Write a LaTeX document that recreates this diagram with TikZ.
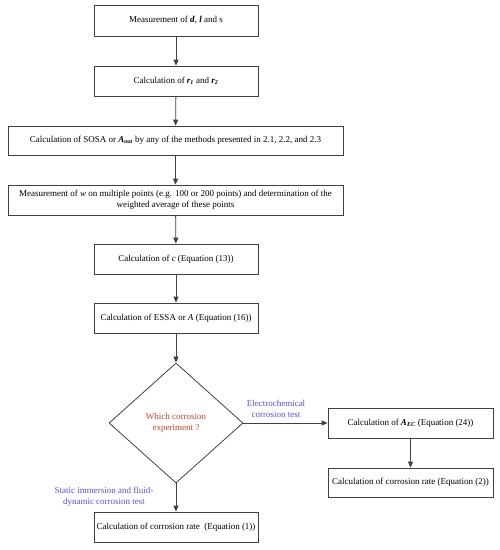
\documentclass[tikz,border=0pt]{standalone}
\usepackage{fontspec}
\setmainfont{Liberation Serif}
\usetikzlibrary{shapes.geometric,arrows.meta}
\definecolor{lbl}{HTML}{5A4CF0}
\definecolor{qred}{HTML}{C0452A}
\definecolor{edge}{HTML}{404040}
\tikzset{
  x=1pt,y=-1pt,
  box/.style={draw=edge,line width=0.8pt,rectangle,inner sep=1pt,align=center,font=\fontsize{9}{10.5}\selectfont},
  dia/.style={draw=edge,line width=0.8pt,diamond,aspect=1.1167,inner sep=0pt,minimum width=134pt,minimum height=120pt,align=center,font=\fontsize{9}{10.5}\selectfont,text=qred},
  conn/.style={draw=edge,line width=0.8pt,-{Triangle[length=6pt,width=5pt]}},
  lab/.style={text=lbl,align=center,font=\fontsize{9}{10.5}\selectfont,inner sep=0pt}
}
\begin{document}
\begin{tikzpicture}
\useasboundingbox (0,0) rectangle (500,550);
\node[box,minimum width=164pt,minimum height=31pt] (b1) at (176,20.5) {Measurement of \textbf{\textit{d}}, \textbf{\textit{l}} and s};
\node[box,minimum width=164pt,minimum height=30pt] (b2) at (176,81) {Calculation of \textbf{\textit{r\textsubscript{1}}} and \textbf{\textit{r\textsubscript{2}}}};
\node[box,minimum width=335pt,minimum height=29pt] (b3) at (175.5,140.5) {Calculation of SOSA or \textbf{\textit{A\textsubscript{out}}} by any of the methods presented in 2.1, 2.2, and 2.3};
\node[box,minimum width=335pt,minimum height=30pt] (b4) at (175.5,200) {Measurement of \textit{w} on multiple points (e.g. 100 or 200 points) and determination of the\\weighted average of these points};
\node[box,minimum width=164pt,minimum height=30pt] (b5) at (176,259) {Calculation of \textit{c} (Equation (13))};
\node[box,minimum width=164pt,minimum height=30pt] (b6) at (176,318) {Calculation of ESSA or \textit{A} (Equation (16))};
\node[dia] (d) at (176,423) {Which corrosion\\experiment ?};
\node[box,minimum width=165pt,minimum height=30pt] (aec) at (410.5,423) {Calculation of \textbf{\textit{A\textsubscript{EC}}} (Equation (24))};
\node[box,minimum width=165pt,minimum height=29pt] (r2) at (410.5,482.5) {Calculation of corrosion rate (Equation (2))};
\node[box,minimum width=164pt,minimum height=30pt] (r1) at (176,527) {Calculation of corrosion rate \ (Equation (1))};
\draw[conn] (b1) -- (b2);
\draw[conn] (b2) -- (b3);
\draw[conn] (b3) -- (b4);
\draw[conn] (b4) -- (b5);
\draw[conn] (b5) -- (b6);
\draw[conn] (b6) -- (d);
\draw[conn] (d) -- (aec);
\draw[conn] (aec) -- (r2);
\draw[conn] (d) -- (r1);
\node[lab] (l1) at (276,409) {Electrochemical\\corrosion test};
\node[lab] (l2) at (104,497) {Static immersion and fluid-\\dynamic corrosion test};
\end{tikzpicture}
\end{document}
